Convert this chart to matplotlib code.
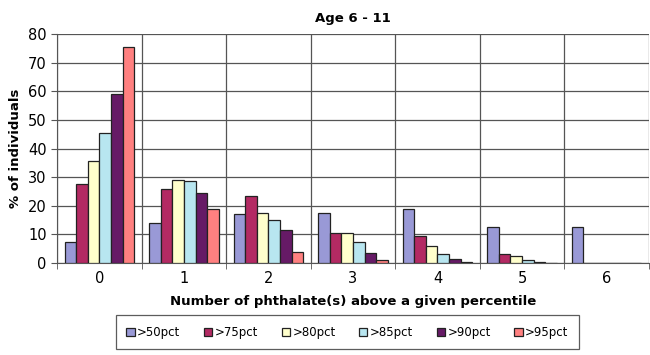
import numpy as np
import matplotlib
matplotlib.use("Agg")
import matplotlib.pyplot as plt

# data
categories = ["0", "1", "2", "3", "4", "5", "6"]
series_names = [">50pct", ">75pct", ">80pct", ">85pct", ">90pct", ">95pct"]
pct50 = [7.5, 14, 17, 17.5, 19, 12.5, 12.5]
pct75 = [27.5, 26, 23.5, 10.5, 9.5, 3, 0]
pct80 = [35.5, 29, 17.5, 10.5, 6, 2.5, 0]
pct85 = [45.5, 28.5, 15, 7.5, 3, 1, 0]
pct90 = [59, 24.5, 11.5, 3.5, 1.5, 0.5, 0]
pct95 = [75.5, 19, 4, 1, 0.5, 0, 0]
colors = ["#9999d6", "#b32a63", "#ffffcc", "#b8e6f0", "#661a66", "#ff8080"]

all_series = [pct50, pct75, pct80, pct85, pct90, pct95]

fig = plt.figure(figsize=(6.5, 3.55), dpi=100)
ax = fig.add_axes([0.088, 0.259, 0.91, 0.645])

x = np.arange(len(categories))
w = 0.137
for i, (vals, col, name) in enumerate(zip(all_series, colors, series_names)):
    ax.bar(x + (i - 2.5) * w, vals, width=w, color=col, edgecolor="#222222",
           linewidth=0.9, label=name, zorder=3)

ax.set_xlim(-0.5, len(categories) - 0.5)
ax.set_ylim(0, 80)
ax.set_yticks(range(0, 81, 10))
ax.set_xticks(x)
ax.set_xticklabels(categories, fontsize=10.5)
ax.set_xticks(np.arange(-0.5, len(categories), 1), minor=True)
ax.tick_params(axis="x", which="major", length=0, pad=6)
ax.tick_params(axis="x", which="minor", length=4, color="#555555")
ax.tick_params(axis="y", labelsize=10.5, length=4, color="#555555")

ax.grid(axis="y", color="#555555", linewidth=0.9, zorder=0)
ax.grid(axis="x", which="minor", color="#555555", linewidth=0.9, zorder=0)
for s in ["top", "right"]:
    ax.spines[s].set_visible(False)
ax.spines["left"].set_color("#555555")
ax.spines["bottom"].set_color("#555555")

ax.set_title("Age 6 - 11", fontsize=9.5, fontweight="bold", pad=9)
ax.set_ylabel("% of individuals", fontsize=9.5, fontweight="bold", labelpad=4)
ax.set_xlabel("Number of phthalate(s) above a given percentile", fontsize=9.5,
              fontweight="bold", labelpad=6)

leg = fig.legend(loc="center", bbox_to_anchor=(0.169, 0.01, 0.731, 0.108),
                 mode="expand", ncol=6, fontsize=8.5, frameon=True, fancybox=False,
                 handlelength=0.7, handleheight=0.7, handletextpad=0.2,
                 borderpad=0.9, columnspacing=1.0)
leg.get_frame().set_edgecolor("#333333")
leg.get_frame().set_linewidth(0.9)

fig.savefig("out.png", dpi=100)
